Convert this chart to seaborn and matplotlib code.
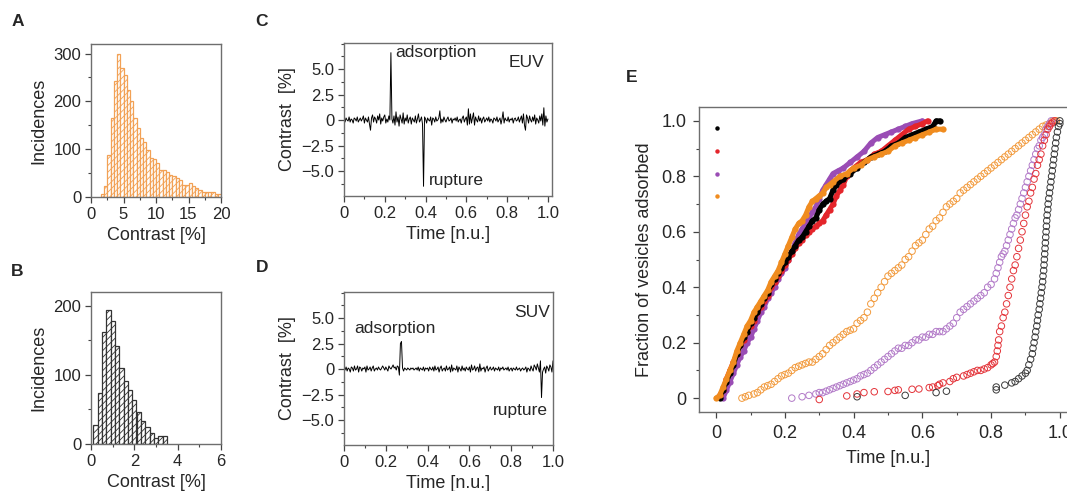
import numpy as np
import pandas as pd
import matplotlib
matplotlib.use("Agg")
import matplotlib.pyplot as plt
from matplotlib.lines import Line2D
from matplotlib.ticker import MultipleLocator
import seaborn as sns

# ---------------- data ----------------
# Panel A: EUV contrast histogram (bin width 0.5 %, first bin starts at 1.5 %)
A_bin_start, A_bin_width = 1.5, 0.5
A_counts = [6, 24, 88, 166, 242, 299, 270, 256, 224, 201,
            165, 144, 123, 116, 99, 81, 80, 71, 57, 57,
            53, 46, 43, 39, 36, 25, 25, 29, 22, 18,
            15, 10, 11, 11, 11, 6, 6]
# Panel B: SUV contrast histogram (bin width 0.2 %, first bin starts at 0.1 %)
B_bin_start, B_bin_width = 0.1, 0.2
B_counts = [28, 74, 162, 194, 178, 142, 110, 91, 78, 64,
            47, 34, 24, 16, 8, 12, 12]

# Panel C: EUV trace (201 samples over 0..1)
C_trace = [0.1, -0.2, 0.2, 0.0, -0.1, 0.3, -0.2, 0.1, 0.0, -0.3, 0.2, 0.1, -0.1, 0.3, -0.2, 0.0, 0.2, -0.1, 0.1, 0.4,
           -0.3, 0.2, 0.0, -0.2, 0.3, -0.4, -1.0, 0.2, 0.5, -0.2, 0.3, 0.1, -0.3, 0.4, 0.0, 0.6, -0.4, 0.2, -0.1, 0.3,
           0.5, -0.3, 0.1, -0.2, 0.4, 0.0, 6.6, 0.1, -0.3, 0.4, -0.5, 0.8, -0.2, 0.3, -0.6, 0.5, 0.1, -0.3, 0.7, -0.4,
           0.2, -0.1, 0.5, -0.3, 0.1, 0.3, -0.4, 0.2, 0.0, -0.2, 0.4, -0.3, 0.1, 0.6, -0.2, 0.0, 0.3, -0.4, -6.5, 0.3,
           0.1, -0.3, 0.2, 0.0, -0.1, 0.3, -0.5, 0.2, 0.1, -0.2, 0.3, -0.1, 0.0, 0.2, 0.9, -0.3, 0.1, -0.2, 0.3, 0.0,
           -0.2, 0.1, 0.3, -0.1, 0.0, 0.2, -0.3, 0.1, 0.0, 0.2, -0.1, 0.3, -0.2, 0.0, 0.1, -0.3, 0.2, 0.4, -0.2, 0.1,
           0.3, -0.5, 1.1, -0.4, 0.6, -0.3, 0.2, 0.7, -0.5, 0.3, 0.0, -0.2, 0.4, -0.1, 0.2, -0.3, 0.1, 0.3, -0.2, 0.0,
           0.2, -0.1, 0.3, -0.2, 0.1, 0.0, -0.3, 0.2, 0.1, -0.1, 0.3, -0.2, 0.0, 0.2, -0.4, 0.1, 0.8, -0.3, 0.2, 0.0,
           -0.1, 0.3, -0.2, 0.1, 0.0, 0.2, -0.3, 0.1, 0.2, -0.1, 0.0, 0.3, -0.2, 0.1, 0.4, -0.3, 0.6, -0.5, -1.0, 0.5,
           0.2, -0.3, 0.4, 0.0, -0.2, 0.3, -0.1, 0.5, -0.4, 0.2, 0.0, -0.3, 0.4, -0.1, 0.6, -0.5, 1.2, -0.6, 0.4, -0.2,
           0.1]
# Panel D: SUV trace (201 samples over 0..1)
D_trace = [0.0, -0.1, 0.2, -0.2, 0.1, 0.0, -0.3, 0.2, 0.1, -0.2, 0.3, -0.1, 0.0, 0.3, -0.3, 0.2, 0.1, -0.2, 0.1, 0.0,
           0.2, -0.3, 0.3, -0.1, 0.0, 0.2, -0.2, 0.1, 0.3, -0.2, 0.0, 0.1, -0.1, 0.2, 0.0, -0.1, 0.1, 0.3, 0.1, -0.1,
           0.2, 0.0, -0.2, 0.3, 0.1, 0.0, 0.2, 0.4, 0.1, 0.2, -0.1, 0.3, 0.2, -0.6, 2.5, 2.7, 0.1, -0.2, 0.1, 0.0,
           -0.1, 0.1, 0.0, -0.1, 0.1, 0.0, 0.1, -0.1, 0.0, 0.1, -0.1, 0.2, -0.2, 0.1, 0.0, -0.1, 0.2, -0.2, 0.1, 0.0,
           0.1, -0.2, 0.2, 0.0, -0.1, 0.2, -0.2, 0.3, -0.1, 0.0, 0.2, -0.3, 0.1, 0.3, -0.2, 0.0, 0.1, -0.2, 0.3, -0.1,
           0.0, 0.2, -0.3, 0.4, -0.2, 0.1, 0.0, -0.1, 0.3, -0.3, 0.2, 0.0, -0.2, 0.3, -0.1, 0.1, -0.2, 0.2, 0.0, -0.1,
           0.2, -0.3, 0.4, -0.1, 0.0, 0.3, -0.2, 0.1, 0.2, -0.3, 0.5, -0.2, 0.1, 0.0, 0.2, -0.3, 0.1, 0.3, -0.2, 0.0,
           0.2, -0.1, 0.0, 0.2, -0.2, 0.1, 0.0, -0.1, 0.2, -0.2, 0.1, 0.0, 0.2, -0.1, 0.0, 0.1, -0.1, 0.2, -0.2, 0.0,
           0.1, -0.2, 0.1, 0.0, -0.1, 0.2, -0.1, 0.0, 0.1, -0.2, 0.0, 0.1, -0.1, 0.0, 0.2, -0.3, 0.1, 0.0, -0.2, 0.3,
           0.0, -0.2, 0.4, 0.2, -0.1, 0.5, 0.1, -0.3, 0.8, -2.8, -0.3, 0.0, 0.2, -0.4, 0.3, 0.1, -0.2, 0.4, 0.2, -0.3,
           0.8]

# Panel E: cumulative fraction of adsorbed vesicles
# filled series
E_black_x = [0.01, 0.02, 0.03, 0.04, 0.05, 0.06, 0.07, 0.08, 0.09, 0.10, 0.11, 0.12, 0.13, 0.14, 0.15, 0.16, 0.17,
             0.18, 0.19, 0.20, 0.21, 0.22, 0.23, 0.24, 0.25, 0.26, 0.27, 0.28, 0.29, 0.30, 0.31, 0.32, 0.33, 0.34,
             0.35, 0.37, 0.39, 0.41, 0.43, 0.45, 0.47, 0.49, 0.51, 0.53, 0.55, 0.57, 0.59, 0.61, 0.63, 0.64, 0.65]
E_black_y = [0.0, 0.03, 0.06, 0.09, 0.12, 0.16, 0.19, 0.22, 0.24, 0.27, 0.29, 0.31, 0.34, 0.36, 0.38, 0.41, 0.43,
             0.45, 0.47, 0.49, 0.51, 0.53, 0.55, 0.57, 0.58, 0.60, 0.62, 0.64, 0.65, 0.68, 0.70, 0.71, 0.72, 0.75,
             0.77, 0.79, 0.81, 0.83, 0.85, 0.87, 0.88, 0.89, 0.91, 0.92, 0.94, 0.95, 0.96, 0.97, 0.98, 1.0, 1.0]
E_red_x = [0.01, 0.02, 0.03, 0.04, 0.05, 0.06, 0.07, 0.08, 0.09, 0.10, 0.11, 0.12, 0.13, 0.14, 0.15, 0.16, 0.17,
           0.18, 0.19, 0.20, 0.21, 0.22, 0.23, 0.24, 0.25, 0.26, 0.27, 0.28, 0.29, 0.30, 0.31, 0.32, 0.33, 0.34,
           0.35, 0.36, 0.37, 0.38, 0.39, 0.40, 0.42, 0.44, 0.46, 0.48, 0.50, 0.52, 0.54, 0.56, 0.58, 0.60, 0.615]
E_red_y = [0.01, 0.03, 0.07, 0.10, 0.13, 0.16, 0.19, 0.21, 0.24, 0.26, 0.28, 0.31, 0.33, 0.35, 0.37, 0.40, 0.42,
           0.44, 0.46, 0.48, 0.50, 0.52, 0.54, 0.56, 0.57, 0.59, 0.60, 0.61, 0.62, 0.63, 0.64, 0.66, 0.68, 0.70,
           0.73, 0.75, 0.77, 0.80, 0.82, 0.83, 0.85, 0.86, 0.88, 0.89, 0.91, 0.93, 0.95, 0.97, 0.98, 0.99, 1.0]
E_purple_x = [0.02, 0.03, 0.04, 0.05, 0.06, 0.07, 0.08, 0.09, 0.10, 0.11, 0.12, 0.13, 0.14, 0.15, 0.16, 0.17, 0.18,
              0.19, 0.20, 0.21, 0.22, 0.23, 0.24, 0.25, 0.26, 0.27, 0.28, 0.29, 0.30, 0.31, 0.32, 0.33, 0.34, 0.355,
              0.37, 0.39, 0.41, 0.43, 0.45, 0.47, 0.49, 0.51, 0.53, 0.55, 0.57, 0.60]
E_purple_y = [0.0, 0.03, 0.06, 0.09, 0.12, 0.15, 0.17, 0.20, 0.22, 0.25, 0.28, 0.31, 0.33, 0.36, 0.38, 0.40, 0.43,
              0.45, 0.47, 0.50, 0.53, 0.56, 0.59, 0.61, 0.63, 0.65, 0.67, 0.69, 0.72, 0.75, 0.77, 0.79, 0.81, 0.82,
              0.83, 0.85, 0.87, 0.89, 0.92, 0.94, 0.95, 0.96, 0.97, 0.98, 0.99, 1.0]
E_orange_x = [0.00, 0.01, 0.02, 0.03, 0.04, 0.05, 0.06, 0.07, 0.08, 0.09, 0.10, 0.11, 0.12, 0.13, 0.14, 0.15, 0.16,
              0.17, 0.18, 0.19, 0.20, 0.21, 0.22, 0.23, 0.24, 0.25, 0.26, 0.27, 0.28, 0.29, 0.30, 0.31, 0.32, 0.33,
              0.34, 0.36, 0.38, 0.40, 0.42, 0.44, 0.46, 0.48, 0.50, 0.52, 0.54, 0.56, 0.58, 0.60, 0.62, 0.64, 0.66]
E_orange_y = [0.0, 0.01, 0.04, 0.07, 0.10, 0.13, 0.17, 0.20, 0.23, 0.26, 0.28, 0.31, 0.33, 0.35, 0.37, 0.39, 0.42,
              0.44, 0.46, 0.49, 0.52, 0.55, 0.58, 0.61, 0.63, 0.64, 0.66, 0.69, 0.71, 0.72, 0.73, 0.74, 0.76, 0.77,
              0.78, 0.80, 0.81, 0.83, 0.84, 0.86, 0.87, 0.88, 0.89, 0.91, 0.92, 0.93, 0.94, 0.95, 0.96, 0.97, 0.97]
# open series
E_orange_open_x = [0.075, 0.085, 0.095, 0.11, 0.12, 0.13, 0.14, 0.15, 0.16, 0.17, 0.18, 0.19, 0.20, 0.21, 0.22,
                   0.23, 0.24, 0.25, 0.26, 0.27, 0.28, 0.29, 0.30, 0.31, 0.32, 0.33, 0.34, 0.35, 0.36, 0.37, 0.38,
                   0.39, 0.40, 0.41, 0.42, 0.43, 0.44, 0.45, 0.46, 0.47, 0.48, 0.49, 0.50, 0.51, 0.52, 0.53, 0.54,
                   0.55, 0.56, 0.57, 0.58, 0.59, 0.60, 0.61, 0.62, 0.63, 0.64, 0.65, 0.66, 0.67, 0.68, 0.69, 0.70,
                   0.71, 0.72, 0.73, 0.74, 0.75, 0.76, 0.77, 0.78, 0.79, 0.80, 0.81, 0.82, 0.83, 0.84, 0.85, 0.86,
                   0.87, 0.88, 0.89, 0.90, 0.91, 0.92, 0.93, 0.94, 0.95, 0.96, 0.97, 0.98, 0.99]
E_orange_open_y = [0.0, 0.005, 0.01, 0.015, 0.02, 0.03, 0.04, 0.045, 0.05, 0.06, 0.07, 0.08, 0.085, 0.09, 0.10,
                   0.11, 0.115, 0.12, 0.125, 0.13, 0.13, 0.14, 0.15, 0.16, 0.175, 0.19, 0.20, 0.21, 0.22, 0.23, 0.24,
                   0.245, 0.25, 0.27, 0.28, 0.29, 0.31, 0.34, 0.36, 0.38, 0.40, 0.42, 0.44, 0.45, 0.46, 0.47, 0.48,
                   0.50, 0.51, 0.53, 0.55, 0.56, 0.57, 0.59, 0.61, 0.62, 0.64, 0.65, 0.67, 0.69, 0.70, 0.71, 0.72,
                   0.74, 0.75, 0.76, 0.77, 0.78, 0.79, 0.80, 0.81, 0.82, 0.83, 0.84, 0.85, 0.86, 0.87, 0.88, 0.89,
                   0.90, 0.91, 0.92, 0.93, 0.94, 0.95, 0.96, 0.97, 0.98, 0.985, 0.99, 1.0, 1.0]
E_purple_open_x = [0.22, 0.25, 0.27, 0.29, 0.30, 0.31, 0.32, 0.33, 0.34, 0.35, 0.36, 0.37, 0.38, 0.39, 0.40, 0.41,
                   0.42, 0.43, 0.44, 0.45, 0.46, 0.47, 0.48, 0.49, 0.50, 0.51, 0.52, 0.53, 0.54, 0.55, 0.56, 0.57,
                   0.58, 0.59, 0.60, 0.61, 0.62, 0.63, 0.64, 0.65, 0.66, 0.67, 0.68, 0.69, 0.70, 0.71, 0.72, 0.73,
                   0.74, 0.75, 0.76, 0.77, 0.78, 0.79, 0.80, 0.81, 0.815, 0.82, 0.825, 0.83, 0.835, 0.84, 0.845,
                   0.85, 0.855, 0.86, 0.865, 0.87, 0.875, 0.88, 0.885, 0.89, 0.895, 0.90, 0.905, 0.91, 0.915, 0.92,
                   0.925, 0.93, 0.935, 0.94, 0.945, 0.95, 0.955, 0.96, 0.965, 0.97, 0.975]
E_purple_open_y = [0.0, 0.005, 0.01, 0.015, 0.02, 0.02, 0.025, 0.03, 0.035, 0.04, 0.045, 0.05, 0.055, 0.06, 0.065,
                   0.07, 0.08, 0.085, 0.09, 0.10, 0.11, 0.12, 0.13, 0.14, 0.15, 0.16, 0.17, 0.18, 0.18, 0.19, 0.19,
                   0.20, 0.21, 0.21, 0.22, 0.22, 0.23, 0.23, 0.24, 0.24, 0.24, 0.25, 0.26, 0.27, 0.29, 0.31, 0.32,
                   0.33, 0.34, 0.35, 0.36, 0.37, 0.38, 0.40, 0.41, 0.43, 0.45, 0.47, 0.49, 0.51, 0.52, 0.53, 0.55,
                   0.57, 0.59, 0.61, 0.63, 0.65, 0.66, 0.68, 0.70, 0.72, 0.74, 0.76, 0.78, 0.80, 0.82, 0.84, 0.86,
                   0.88, 0.90, 0.91, 0.93, 0.94, 0.95, 0.97, 0.98, 0.99, 1.0]
E_red_open_x = [0.30, 0.38, 0.41, 0.43, 0.46, 0.50, 0.52, 0.53, 0.57, 0.59, 0.62, 0.63, 0.645, 0.65, 0.66, 0.68,
                0.69, 0.70, 0.72, 0.73, 0.74, 0.75, 0.76, 0.77, 0.78, 0.79, 0.80, 0.805, 0.81, 0.815, 0.818, 0.82,
                0.822, 0.825, 0.83, 0.835, 0.84, 0.845, 0.85, 0.855, 0.86, 0.865, 0.87, 0.875, 0.88, 0.885, 0.89,
                0.895, 0.90, 0.905, 0.91, 0.915, 0.92, 0.925, 0.93, 0.935, 0.94, 0.945, 0.95, 0.955, 0.96, 0.965,
                0.97, 0.975, 0.98, 0.985]
E_red_open_y = [-0.005, 0.008, 0.015, 0.02, 0.023, 0.024, 0.028, 0.03, 0.032, 0.033, 0.038, 0.04, 0.045, 0.05,
                0.055, 0.06, 0.07, 0.075, 0.08, 0.085, 0.09, 0.095, 0.10, 0.10, 0.105, 0.11, 0.12, 0.125, 0.13,
                0.15, 0.17, 0.19, 0.21, 0.24, 0.26, 0.29, 0.31, 0.34, 0.37, 0.40, 0.43, 0.46, 0.48, 0.51, 0.54,
                0.57, 0.60, 0.63, 0.66, 0.69, 0.71, 0.74, 0.76, 0.79, 0.81, 0.84, 0.86, 0.88, 0.91, 0.93, 0.95,
                0.97, 0.98, 0.99, 0.995, 1.0]
E_black_open_x = [0.41, 0.55, 0.64, 0.67, 0.815, 0.815, 0.84, 0.86, 0.87, 0.88, 0.89, 0.90, 0.905, 0.91, 0.915,
                  0.92, 0.922, 0.925, 0.928, 0.93, 0.933, 0.935, 0.937, 0.94, 0.942, 0.944, 0.946, 0.948, 0.95,
                  0.951, 0.953, 0.954, 0.955, 0.956, 0.957, 0.958, 0.959, 0.96, 0.961, 0.962, 0.963, 0.965, 0.966,
                  0.968, 0.97, 0.972, 0.974, 0.976, 0.978, 0.98, 0.982, 0.984, 0.986, 0.988, 0.99, 0.993, 0.996,
                  1.0, 1.0]
E_black_open_y = [0.005, 0.01, 0.02, 0.025, 0.03, 0.04, 0.047, 0.055, 0.06, 0.07, 0.08, 0.09, 0.10, 0.12, 0.14,
                  0.16, 0.18, 0.20, 0.22, 0.24, 0.26, 0.28, 0.30, 0.32, 0.34, 0.36, 0.38, 0.40, 0.42, 0.44, 0.46,
                  0.48, 0.50, 0.52, 0.54, 0.56, 0.58, 0.60, 0.62, 0.64, 0.66, 0.68, 0.70, 0.72, 0.74, 0.76, 0.78,
                  0.80, 0.82, 0.84, 0.86, 0.88, 0.90, 0.92, 0.94, 0.96, 0.98, 0.99, 1.0]

# ---------------- style ----------------
sns.set_theme(style="ticks")
plt.rcParams['font.family'] = ['Liberation Sans', 'DejaVu Sans']
plt.rcParams['hatch.linewidth'] = 0.6
plt.rcParams['axes.unicode_minus'] = True

ORANGE_H = '#f2a155'
BLACK = '#000000'
RED = '#e4252b'
PURPLE = '#9a4db5'
ORANGE = '#f08c1f'
SPINE = '#6e6e6e'
TICK_FS = 12
LAB_FS = 13
TXT_FS = 12.5

W, H = 1067, 491
fig = plt.figure(figsize=(W / 100, H / 100), dpi=100)


def px_axes(left, top, right, bottom):
    return fig.add_axes([left / W, 1 - bottom / H, (right - left) / W, (bottom - top) / H])


def style(ax, fs):
    for s in ax.spines.values():
        s.set_color(SPINE)
        s.set_linewidth(1.0)
    ax.tick_params(which='both', direction='out', color='#444444', labelsize=fs,
                   top=False, right=False, pad=3)
    ax.tick_params(which='major', length=4, width=0.9)
    ax.tick_params(which='minor', length=2.5, width=0.8)


def hist_panel(ax, start, width, counts, color):
    edges = [start + width * i for i in range(len(counts) + 1)]
    df = pd.DataFrame({'contrast': [e + width / 2 for e in edges[:-1]], 'count': counts})
    sns.histplot(data=df, x='contrast', weights='count', bins=edges, ax=ax, color=color, linewidth=0.9)
    for p in ax.patches:
        p.set_facecolor('white')
        p.set_edgecolor(color)
        p.set_hatch('/////')
        p.set_alpha(1.0)


# ---- Panel A ----
axA = px_axes(91, 44, 221, 197)
hist_panel(axA, A_bin_start, A_bin_width, A_counts, ORANGE_H)
axA.set_xlim(0, 20)
axA.set_ylim(0, 320)
axA.set_xticks([0, 5, 10, 15, 20])
axA.set_yticks([0, 100, 200, 300])
axA.xaxis.set_minor_locator(MultipleLocator(2.5))
axA.yaxis.set_minor_locator(MultipleLocator(50))
axA.set_xlabel('Contrast [%]', fontsize=LAB_FS)
axA.set_ylabel('Incidences', fontsize=LAB_FS)
style(axA, TICK_FS)

# ---- Panel B ----
axB = px_axes(91, 292, 221, 444)
hist_panel(axB, B_bin_start, B_bin_width, B_counts, '#333333')
axB.set_xlim(0, 6)
axB.set_ylim(0, 220)
axB.set_xticks([0, 2, 4, 6])
axB.set_yticks([0, 100, 200])
axB.xaxis.set_minor_locator(MultipleLocator(1))
axB.yaxis.set_minor_locator(MultipleLocator(50))
axB.set_xlabel('Contrast [%]', fontsize=LAB_FS)
axB.set_ylabel('Incidences', fontsize=LAB_FS)
style(axB, TICK_FS)

# ---- Panels C and D ----
t = np.linspace(0, 1, len(C_trace))
ytick_vals = [-5.0, -2.5, 0, 2.5, 5.0]
ytick_labs = ['\u22125.0', '\u22122.5', '0', '2.5', '5.0']
xtick_vals = [0, 0.2, 0.4, 0.6, 0.8, 1.0]
xtick_labs = ['0', '0.2', '0.4', '0.6', '0.8', '1.0']

axC = px_axes(344, 43, 552, 196)
sns.lineplot(x=t, y=np.array(C_trace), ax=axC, color='black', linewidth=0.7, estimator=None, sort=False)
axC.set_xlim(0, 1.02)
axC.set_ylim(-7.45, 7.55)
axC.text(0.25, 6.6, 'adsorption', fontsize=TXT_FS, va='center', ha='left')
axC.text(0.985, 5.6, 'EUV', fontsize=TXT_FS, va='center', ha='right')
axC.text(0.417, -5.9, 'rupture', fontsize=TXT_FS, va='center', ha='left')

axD = px_axes(344, 292, 553, 445)
sns.lineplot(x=t, y=np.array(D_trace), ax=axD, color='black', linewidth=0.7, estimator=None, sort=False)
axD.set_xlim(0, 1.0)
axD.set_ylim(-7.45, 7.55)
axD.text(0.985, 5.5, 'SUV', fontsize=TXT_FS, va='center', ha='right')
axD.text(0.05, 4.0, 'adsorption', fontsize=TXT_FS, va='center', ha='left')
axD.text(0.975, -4.1, 'rupture', fontsize=TXT_FS, va='center', ha='right')

for ax in (axC, axD):
    ax.set_xticks(xtick_vals, xtick_labs)
    ax.set_yticks(ytick_vals, ytick_labs)
    ax.xaxis.set_minor_locator(MultipleLocator(0.1))
    ax.yaxis.set_minor_locator(MultipleLocator(1.25))
    ax.set_xlabel('Time [n.u.]', fontsize=LAB_FS)
    ax.set_ylabel('Contrast  [%]', fontsize=LAB_FS)
    style(ax, TICK_FS)

# ---- Panel E ----
axE = px_axes(699, 107, 1077, 412)
open_series = [
    (E_orange_open_x, E_orange_open_y, '#f29a3c'),
    (E_purple_open_x, E_purple_open_y, '#b27ac8'),
    (E_red_open_x, E_red_open_y, '#e4343a'),
    (E_black_open_x, E_black_open_y, '#3a3a3a'),
]
for xs, ys, c in open_series:
    sns.scatterplot(x=np.array(xs), y=np.array(ys), ax=axE, marker='o', s=22, facecolors='none',
                    edgecolor=c, linewidth=0.7, zorder=3)

filled_series = [
    (E_purple_x, E_purple_y, PURPLE),
    (E_red_x, E_red_y, RED),
    (E_black_x, E_black_y, BLACK),
    (E_orange_x, E_orange_y, ORANGE),
]
for xs, ys, c in filled_series:
    sns.lineplot(x=np.array(xs), y=np.array(ys), ax=axE, color=c, linewidth=3.6, marker='o', markersize=4.5,
                 markeredgewidth=0, estimator=None, sort=False, zorder=4)

handles = [Line2D([], [], linestyle='', marker='o', markersize=3.2, color=c, markeredgewidth=0)
           for c in (BLACK, RED, PURPLE, ORANGE)]
axE.legend(handles, [' '] * 4, loc='upper left', bbox_to_anchor=(0.02, 0.97), frameon=False,
           handlelength=0.6, handletextpad=0.2, fontsize=11, labelspacing=0.58, borderaxespad=0)

axE.set_xlim(-0.05, 1.05)
axE.set_ylim(-0.05, 1.05)
axE.set_xticks([0, 0.2, 0.4, 0.6, 0.8, 1.0], ['0', '0.2', '0.4', '0.6', '0.8', '1.0'])
axE.set_yticks([0, 0.2, 0.4, 0.6, 0.8, 1.0], ['0', '0.2', '0.4', '0.6', '0.8', '1.0'])
axE.xaxis.set_minor_locator(MultipleLocator(0.1))
axE.yaxis.set_minor_locator(MultipleLocator(0.1))
axE.set_xlabel('Time [n.u.]', fontsize=13, labelpad=6)
axE.set_ylabel('Fraction of vesicles adsorbed', fontsize=13, labelpad=6)
style(axE, 13)
axE.tick_params(which='major', pad=5)

# panel letters
for lab, x, y in [('A', 18, 21), ('B', 17, 271), ('C', 262, 21), ('D', 262, 268), ('E', 632, 78)]:
    fig.text(x / W, 1 - y / H, lab, fontsize=12.5, fontweight='bold', ha='center', va='center')

fig.savefig('out.png', dpi=100)
